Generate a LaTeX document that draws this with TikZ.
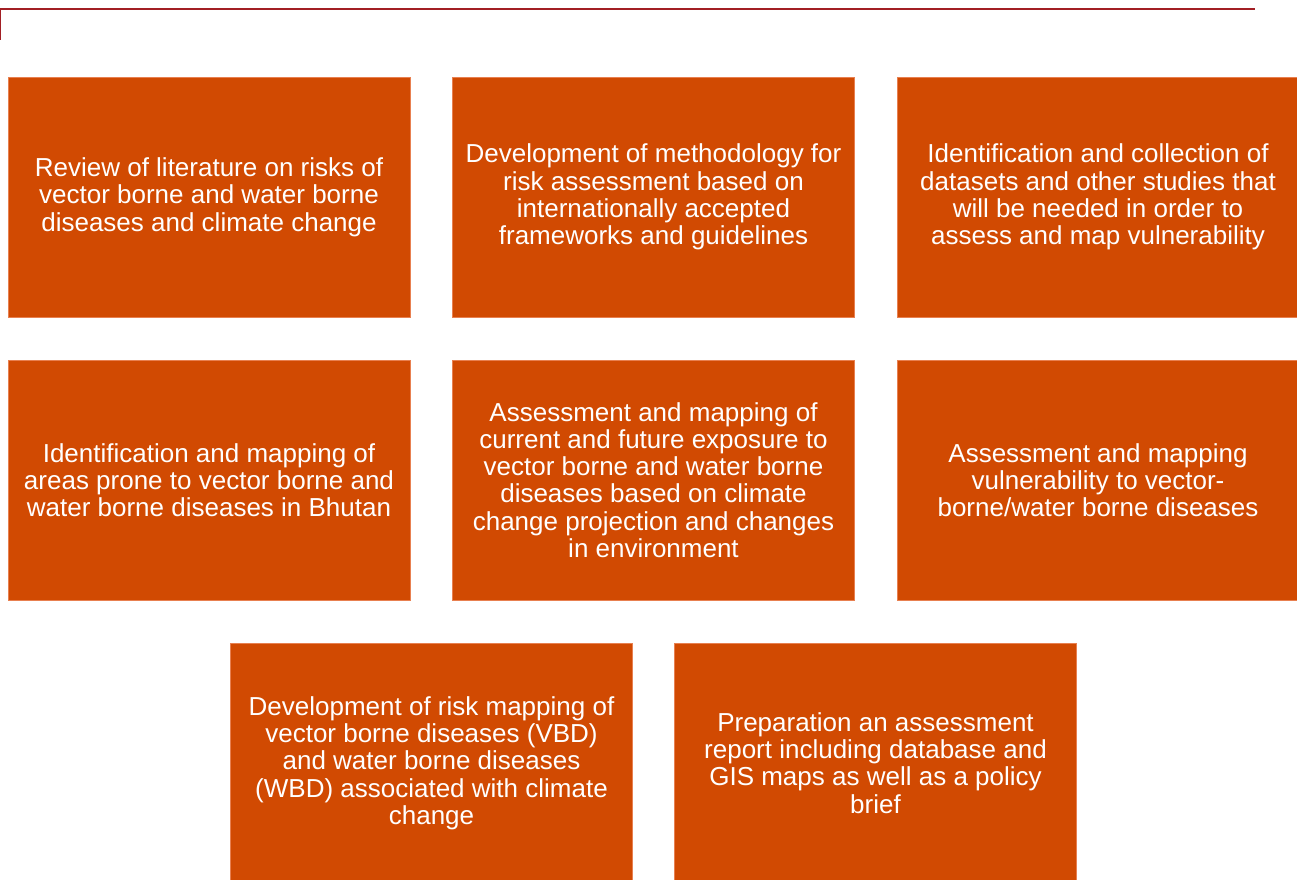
\documentclass[tikz,border=0pt]{standalone}
\usepackage{fontspec}
\setmainfont{Liberation Sans}
\definecolor{taskfill}{RGB}{209,74,2}
\definecolor{taskedge}{RGB}{232,128,80}
\definecolor{rulered}{RGB}{162,31,36}

\tikzset{
  task/.style={fill=taskfill, draw=taskedge, line width=0.8pt, text=white,
    minimum width=402pt, minimum height=240pt,
    align=center, inner sep=0pt, font=\fontsize{26}{27.3}\selectfont},
}

\begin{document}
\begin{tikzpicture}[x=1pt, y=-1pt]
        \useasboundingbox (0,0) rectangle (1297,879);
        \clip (0,0) rectangle (1297,879);

        % heading rule
        \coordinate (RL) at (0,40);
        \coordinate (RC) at (0,9);
        \coordinate (RR) at (1255,9);
        \draw[rulered, line width=2.6pt] (RL) -- (RC) -- (RR);

        % first row
        \node[task] (lit) at (209, 197) {Review of literature on risks of\\vector borne and water borne\\diseases and climate change};
        \node[task] (meth) at (653.5, 197) {Development of methodology for\\risk assessment based on\\internationally accepted\\frameworks and guidelines};
        \node[task] (data) at (1098, 197) {Identification and collection of\\datasets and other studies that\\will be needed in order to\\assess and map vulnerability};

        % second row
        \node[task] (areas) at (209, 480) {Identification and mapping of\\areas prone to vector borne and\\water borne diseases in Bhutan};
        \node[task] (expo) at (653.5, 480) {Assessment and mapping of\\current and future exposure to\\vector borne and water borne\\diseases based on climate\\change projection and changes\\in environment};
        \node[task] (vuln) at (1098, 480) {Assessment and mapping\\vulnerability to vector-\\borne/water borne diseases};

        % third row
        \node[task] (risk) at (431.5, 763) {Development of risk mapping of\\vector borne diseases (VBD)\\and water borne diseases\\(WBD) associated with climate\\change};
        \node[task] (report) at (875.5, 763) {Preparation an assessment\\report including database and\\GIS maps as well as a policy\\brief};
      \end{tikzpicture}
\end{document}
